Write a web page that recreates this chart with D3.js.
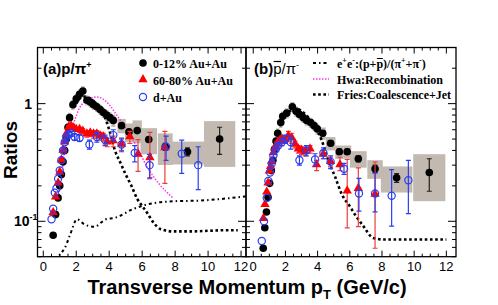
<!DOCTYPE html>
<html>
<head>
<meta charset="utf-8">
<script src="https://cdnjs.cloudflare.com/ajax/libs/d3/7.8.5/d3.min.js"></script>
<style>
body { margin: 0; background: #fff; }
svg { display: block; }
</style>
</head>
<body>
<div id="chart"></div>
<script>
// ---- panel (a) p/pi+ ----
var blackA_pt  = [0.6,0.75,0.9,1.0,1.1,1.2,1.3,1.4,1.5,1.6,1.8,2.0,2.2,2.4,2.65,2.85,3.05,3.25,3.45,3.65,3.85,4.05,4.25,4.75,5.2,5.7,6.4,7.4,8.75,10.7]
var blackA_val = [0.076,0.114,0.158,0.2,0.25,0.32,0.4,0.5,0.63,0.76,0.98,1.1,1.2,1.28,1.07,1.03,0.98,0.94,0.89,0.84,0.8,0.76,0.72,0.65,0.575,0.59,0.495,0.43,0.39,0.5]
var blackA_err = [0,0,0,0,0,0,0,0,0,0,0,0,0,0,0,0,0,0,0,0,0,0,0,0.02,0.02,0.02,0.02,0.03,0.03,0.13]
var blackA_sys = [0.06,0.06,0.06,0.07,0.07,0.08,0.08,0.09,0.09,0.1,0.1,0.1,0.1,0.1,0.1,0.1,0.1,0.1,0.1,0.1,0.11,0.11,0.12,0.14,0.18,0.22,0.25,0.3,0.22,0.42]
var blackA_bin = [0.1,0.1,0.1,0.1,0.1,0.1,0.1,0.1,0.1,0.1,0.1,0.1,0.1,0.1,0.1,0.1,0.1,0.1,0.1,0.1,0.1,0.1,0.12,0.25,0.25,0.28,0.5,0.45,1.0,0.95]

var redA_pt  = [0.6,0.75,0.9,1.0,1.1,1.2,1.3,1.4,1.55,1.7,1.85,2.0,2.2,2.4,2.65,2.85,3.05,3.25,3.45,3.65,3.88,4.24,4.75,5.25,5.75,6.47,7.38]
var redA_val = [0.118,0.16,0.21,0.26,0.33,0.4,0.47,0.55,0.63,0.64,0.62,0.6,0.6,0.58,0.55,0.56,0.55,0.55,0.53,0.52,0.47,0.48,0.45,0.52,0.37,0.345,0.42]
var redA_up  = [0,0,0,0,0,0,0,0.01,0.02,0.02,0.02,0.02,0.03,0.03,0.03,0.03,0.04,0.04,0.04,0.04,0.04,0.05,0.05,0.06,0.125,0.225,0.16]
var redA_dn  = [0,0,0,0,0,0,0,0.01,0.02,0.02,0.02,0.02,0.03,0.03,0.03,0.03,0.04,0.04,0.04,0.04,0.04,0.05,0.05,0.06,0.104,0.11,0.21]

var blueA_pt  = [0.5,0.6,0.7,0.8,0.9,1.0,1.1,1.2,1.3,1.4,1.55,1.7,1.9,2.2,2.8,3.25,3.75,4.25,4.75,5.55,6.45,7.45,8.4,9.4]
var blueA_val = [0.104,0.128,0.175,0.19,0.23,0.27,0.33,0.4,0.47,0.52,0.55,0.56,0.52,0.51,0.45,0.52,0.49,0.54,0.45,0.38,0.3,0.43,0.375,0.3]
var blueA_up  = [0,0,0,0,0,0,0,0.01,0.01,0.01,0.02,0.02,0.03,0.03,0.04,0.05,0.05,0.06,0.06,0.06,0.07,0.1,0.115,0.13]
var blueA_dn  = [0,0,0,0,0,0,0,0.01,0.01,0.01,0.02,0.02,0.03,0.03,0.04,0.05,0.05,0.06,0.06,0.06,0.07,0.1,0.12,0.114]

var hwaA_pt  = [0.9,1.0,1.3,1.6,1.9,2.2,2.5,2.9,3.2,3.6,4.0,4.4,5.0,5.6,6.3,7.0,7.9]
var hwaA_val = [0.16,0.19,0.4,0.58,0.72,0.92,1.03,1.11,1.14,1.1,0.98,0.82,0.62,0.45,0.29,0.21,0.157]

var friesA_pt  = [2.0,2.4,2.8,3.2,3.6,4.0,4.35,4.7,5.0,5.35,5.7,6.0,6.3,6.7,7.1,7.9,9,10,11,11.8]
var friesA_val = [1.0,1.15,1.12,1.0,0.85,0.6,0.4,0.31,0.25,0.2,0.155,0.135,0.118,0.097,0.086,0.082,0.082,0.083,0.084,0.084]

var eeA_pt  = [0.8,1.0,1.3,1.6,2.05,2.5,3.1,3.8,4.35,5.45,6.3,7.9,9.5,12.3]
var eeA_val = [0.046,0.052,0.059,0.075,0.104,0.094,0.09,0.104,0.107,0.127,0.139,0.148,0.15,0.163]

// ---- panel (b) pbar/pi- ----
var blackB_pt  = [0.62,0.72,0.82,0.92,1.02,1.12,1.22,1.32,1.42,1.52,1.71,1.83,2.08,2.43,2.66,2.87,3.11,3.32,3.57,3.78,3.98,4.32,4.81,5.35,5.84,6.53,7.57,8.91,10.94]
var blackB_val = [0.059,0.088,0.12,0.16,0.21,0.27,0.33,0.41,0.48,0.56,0.69,0.78,0.83,0.94,0.86,0.81,0.76,0.72,0.69,0.65,0.61,0.56,0.46,0.39,0.39,0.34,0.28,0.234,0.26]
var blackB_err = [0,0,0,0,0,0,0,0,0,0,0,0,0,0,0,0,0,0,0,0,0,0,0.02,0.02,0.02,0.02,0.02,0.02,0.08]
var blackB_sys = [0.06,0.06,0.06,0.07,0.07,0.08,0.08,0.09,0.09,0.1,0.1,0.1,0.1,0.1,0.1,0.1,0.1,0.1,0.1,0.1,0.11,0.12,0.13,0.13,0.13,0.16,0.18,0.25,0.43]
var blackB_bin = [0.05,0.05,0.05,0.05,0.05,0.05,0.05,0.05,0.05,0.1,0.1,0.1,0.12,0.12,0.12,0.1,0.12,0.12,0.12,0.1,0.1,0.18,0.3,0.25,0.25,0.52,0.48,0.98,1.0]

var redB_pt  = [0.63,0.73,0.84,0.92,1.0,1.08,1.15,1.25,1.35,1.45,1.55,1.66,1.78,1.98,2.18,2.39,2.6,2.8,3.0,3.22,3.53,3.94,4.35,4.8,5.39,5.84,6.53,7.57]
var redB_val = [0.105,0.138,0.176,0.21,0.266,0.29,0.32,0.38,0.42,0.45,0.47,0.48,0.5,0.49,0.53,0.51,0.45,0.41,0.4,0.39,0.41,0.3,0.37,0.32,0.3,0.18,0.189,0.169]
var redB_up  = [0,0,0,0,0,0,0.01,0.01,0.01,0.02,0.02,0.02,0.03,0.03,0.05,0.05,0.03,0.03,0.03,0.03,0.03,0.03,0.03,0.03,0.05,0.155,0.095,0.15]
var redB_dn  = [0,0,0,0,0,0,0.01,0.01,0.01,0.02,0.02,0.02,0.03,0.03,0.05,0.05,0.03,0.03,0.03,0.03,0.03,0.03,0.03,0.03,0.03,0.092,0.099,0.11]

var blueB_pt  = [0.53,0.67,0.84,0.94,1.05,1.15,1.25,1.4,1.55,1.77,2.0,2.33,2.87,3.3,3.84,4.36,4.81,5.64,6.57,7.57,8.6,9.64]
var blueB_val = [0.068,0.1,0.158,0.22,0.26,0.31,0.36,0.41,0.44,0.47,0.5,0.47,0.33,0.4,0.335,0.38,0.32,0.28,0.172,0.172,0.165,0.223]
var blueB_up  = [0,0,0,0,0,0.01,0.01,0.01,0.02,0.03,0.04,0.06,0.03,0.04,0.04,0.04,0.04,0.03,0.06,0.085,0.11,0.107]
var blueB_dn  = [0,0,0,0,0,0.01,0.01,0.01,0.02,0.03,0.04,0.06,0.03,0.04,0.04,0.04,0.04,0.03,0.05,0.052,0.074,0.107]

var friesB_pt  = [2.2,2.7,3.2,3.7,4.0,4.25,4.66,5.08,5.5,6.0,6.4,6.84,7.46,8.1,10,12]
var friesB_val = [0.85,0.9,0.82,0.68,0.58,0.49,0.33,0.24,0.17,0.134,0.11,0.091,0.072,0.07,0.07,0.07]

var xTickLabels = [0,2,4,6,8,10,12]
var legendA = ["0-12% Au+Au", "60-80% Au+Au", "d+Au"]

var W = 498, H = 305
var plotTop = 47.5, plotBottom = 256.7
var sans = "'Liberation Sans', Arial, sans-serif"
var serif = "'Liberation Serif', 'Times New Roman', serif"

var svg = d3.select("#chart").append("svg").attr("width", W).attr("height", H)

var y = d3.scaleLog().domain([0.05, 3]).range([plotBottom, plotTop])

function zip(pt, val) {
    return pt.map(function(p, i) { return {x: p, y: val[i]} })
}

function drawPanel(id, x, opt) {
    var x0 = x.range()[0], x1 = x.range()[1]
    svg.append("clipPath").attr("id", "clip" + id)
        .append("rect").attr("x", x0).attr("y", plotTop)
        .attr("width", x1 - x0).attr("height", plotBottom - plotTop)

    var g = svg.append("g").attr("clip-path", "url(#clip" + id + ")")

    // systematic boxes
    g.selectAll("rect.sys")
        .data(opt.black.pt.map(function(p, i) {
            var v = opt.black.val[i], s = opt.black.sys[i], b = opt.black.bin[i]
            return {x0: p - b, x1: p + b, lo: v * (1 - s), hi: v * (1 + s)}
        }))
        .enter().append("rect")
        .attr("x", function(d) { return x(d.x0) })
        .attr("width", function(d) { return x(d.x1) - x(d.x0) })
        .attr("y", function(d) { return y(d.hi) })
        .attr("height", function(d) { return y(d.lo) - y(d.hi) })
        .attr("fill", "#c2b9b0")

    var line = d3.line().x(function(d) { return x(d.x) }).y(function(d) { return y(d.y) }).curve(d3.curveMonotoneX)

    opt.lines.forEach(function(l) {
        g.append("path")
            .datum(zip(l.pt, l.val))
            .attr("d", line)
            .attr("fill", "none")
            .attr("stroke", l.color)
            .attr("stroke-width", l.width)
            .attr("stroke-dasharray", l.dash)
    })

    function errorBars(pts, vals, up, dn, color) {
        var data = pts.map(function(p, i) { return {x: p, y: vals[i], hi: vals[i] + up[i], lo: Math.max(vals[i] - dn[i], 0.01)} })
            .filter(function(d) { return d.hi > d.y })
        var eg = g.append("g").attr("stroke", color).attr("stroke-width", 1.2)
        eg.selectAll("line.v").data(data).enter().append("line")
            .attr("x1", function(d) { return x(d.x) }).attr("x2", function(d) { return x(d.x) })
            .attr("y1", function(d) { return y(d.hi) }).attr("y2", function(d) { return y(d.lo) })
        eg.selectAll("line.t").data(data).enter().append("line")
            .attr("x1", function(d) { return x(d.x) - 2.5 }).attr("x2", function(d) { return x(d.x) + 2.5 })
            .attr("y1", function(d) { return y(d.hi) }).attr("y2", function(d) { return y(d.hi) })
        eg.selectAll("line.b").data(data).enter().append("line")
            .attr("x1", function(d) { return x(d.x) - 2.5 }).attr("x2", function(d) { return x(d.x) + 2.5 })
            .attr("y1", function(d) { return y(d.lo) }).attr("y2", function(d) { return y(d.lo) })
    }

    // black 0-12%
    errorBars(opt.black.pt, opt.black.val, opt.black.err, opt.black.err, "#222")
    g.append("g").selectAll("circle").data(zip(opt.black.pt, opt.black.val)).enter()
        .append("circle")
        .attr("cx", function(d) { return x(d.x) }).attr("cy", function(d) { return y(d.y) })
        .attr("r", 3.8).attr("fill", "#000")

    // red 60-80%
    errorBars(opt.red.pt, opt.red.val, opt.red.up, opt.red.dn, "#f03a3a")
    g.append("g").selectAll("path").data(zip(opt.red.pt, opt.red.val)).enter()
        .append("path")
        .attr("d", d3.symbol(d3.symbolTriangle, 38))
        .attr("transform", function(d) { return "translate(" + x(d.x) + "," + (y(d.y) - 0.5) + ")" })
        .attr("fill", "#ff0000")

    // blue d+Au
    errorBars(opt.blue.pt, opt.blue.val, opt.blue.up, opt.blue.dn, "#2a3ff0")
    g.append("g").selectAll("circle").data(zip(opt.blue.pt, opt.blue.val)).enter()
        .append("circle")
        .attr("cx", function(d) { return x(d.x) }).attr("cy", function(d) { return y(d.y) })
        .attr("r", 3.6).attr("fill", "none").attr("stroke", "#2a3ff0").attr("stroke-width", 1.2)

    // frame
    svg.append("rect").attr("x", x0).attr("y", plotTop)
        .attr("width", x1 - x0).attr("height", plotBottom - plotTop)
        .attr("fill", "none").attr("stroke", "#000").attr("stroke-width", 1.3)

    var ax = svg.append("g").attr("stroke", "#000").attr("stroke-width", 1)
    d3.range(0, 12.5, 0.5).forEach(function(t) {
        if (x(t) <= x0 || x(t) >= x1) return
        var len = (t % 2 === 0) ? 6 : 3
        ax.append("line").attr("x1", x(t)).attr("x2", x(t)).attr("y1", plotBottom).attr("y2", plotBottom - len)
        ax.append("line").attr("x1", x(t)).attr("x2", x(t)).attr("y1", plotTop).attr("y2", plotTop + len)
    })
    var yt = []
    ;[0.01, 0.1, 1].forEach(function(dec) {
        for (var k = 1; k < 10; k++) yt.push({v: dec * k, major: k === 1})
    })
    yt.filter(function(t) { return t.v >= 0.05 && t.v <= 3 }).forEach(function(t) {
        var len = t.major ? 8 : 4
        ax.append("line").attr("x1", x0).attr("x2", x0 + len).attr("y1", y(t.v)).attr("y2", y(t.v))
        ax.append("line").attr("x1", x1).attr("x2", x1 - len).attr("y1", y(t.v)).attr("y2", y(t.v))
    })

    svg.append("g").selectAll("text").data(xTickLabels).enter().append("text")
        .attr("x", function(d) { return x(d) }).attr("y", 271)
        .attr("text-anchor", "middle")
        .attr("font-family", sans).attr("font-size", 13)
        .text(function(d) { return d })
}

var xA = d3.scaleLinear().domain([-0.35, 12.3]).range([37.5, 246])
var xB = d3.scaleLinear().domain([-0.45, 12.6]).range([246, 456])

drawPanel("a", xA, {
    black: {pt: blackA_pt, val: blackA_val, err: blackA_err, sys: blackA_sys, bin: blackA_bin},
    red: {pt: redA_pt, val: redA_val, up: redA_up, dn: redA_dn},
    blue: {pt: blueA_pt, val: blueA_val, up: blueA_up, dn: blueA_dn},
    lines: [
        {pt: eeA_pt, val: eeA_val, color: "#000", width: 2, dash: "3,3,1.5,3"},
        {pt: friesA_pt, val: friesA_val, color: "#000", width: 2.6, dash: "2.6,2.6"},
        {pt: hwaA_pt, val: hwaA_val, color: "#ff33ee", width: 1.5, dash: "1.5,1.5"}
    ]
})

drawPanel("b", xB, {
    black: {pt: blackB_pt, val: blackB_val, err: blackB_err, sys: blackB_sys, bin: blackB_bin},
    red: {pt: redB_pt, val: redB_val, up: redB_up, dn: redB_dn},
    blue: {pt: blueB_pt, val: blueB_val, up: blueB_up, dn: blueB_dn},
    lines: [
        {pt: friesB_pt, val: friesB_val, color: "#000", width: 2.6, dash: "2.6,2.6"}
    ]
})

// y tick labels
svg.append("text").attr("x", 32).attr("y", y(1) + 5).attr("text-anchor", "end")
    .attr("font-family", sans).attr("font-weight", "bold").attr("font-size", 14).text("1")
var t10 = svg.append("text").attr("x", 14).attr("y", y(0.1) + 5)
    .attr("font-family", sans).attr("font-weight", "bold").attr("font-size", 14)
t10.append("tspan").text("10")
t10.append("tspan").attr("dy", -6).attr("font-size", 9).text("-1")

// axis titles
svg.append("text").attr("transform", "translate(17,150) rotate(-90)")
    .attr("text-anchor", "middle").attr("font-family", sans).attr("font-weight", "bold")
    .attr("font-size", 19).text("Ratios")

var xt = svg.append("text").attr("x", 247).attr("y", 294).attr("text-anchor", "middle")
    .attr("font-family", sans).attr("font-weight", "bold").attr("font-size", 20)
xt.append("tspan").text("Transverse Momentum p")
xt.append("tspan").attr("dy", 5).attr("font-size", 13).text("T")
xt.append("tspan").attr("dy", -5).text(" (GeV/c)")

// panel labels
var la = svg.append("text").attr("x", 43).attr("y", 74)
    .attr("font-family", sans).attr("font-weight", "bold").attr("font-size", 15)
la.append("tspan").text("(a)p/\u03c0")
la.append("tspan").attr("dy", -6).attr("font-size", 9).text("+")

var lb = svg.append("text").attr("x", 254).attr("y", 74)
    .attr("font-family", sans).attr("font-size", 15)
lb.append("tspan").attr("font-weight", "bold").text("(b)")
lb.append("tspan").text("p")
lb.append("tspan").text("/\u03c0")
lb.append("tspan").attr("dy", -6).attr("font-size", 9).text("-")
// overline on p
var lbNode = lb.node()
var pStart = lbNode.getStartPositionOfChar(3).x, pEnd = lbNode.getEndPositionOfChar(3).x
svg.append("line").attr("x1", pStart + 0.5).attr("x2", pEnd - 0.5).attr("y1", 61.5).attr("y2", 61.5)
    .attr("stroke", "#000").attr("stroke-width", 1.2)

// legend (a)
var legA = svg.append("g").attr("font-family", serif).attr("font-weight", "bold").attr("font-size", 12)
var legY = [63, 80, 97]
legA.append("circle").attr("cx", 143).attr("cy", legY[0]).attr("r", 3.8).attr("fill", "#000")
legA.append("path").attr("d", d3.symbol(d3.symbolTriangle, 38))
    .attr("transform", "translate(143," + (legY[1] - 0.5) + ")").attr("fill", "#ff0000")
legA.append("circle").attr("cx", 143).attr("cy", legY[2]).attr("r", 3.6)
    .attr("fill", "none").attr("stroke", "#2a3ff0").attr("stroke-width", 1.2)
legA.selectAll("text").data(legendA).enter().append("text")
    .attr("x", 153).attr("y", function(d, i) { return legY[i] + 4.5 })
    .text(function(d) { return d })

// legend (b)
var legB = svg.append("g").attr("font-family", serif).attr("font-weight", "bold").attr("font-size", 12)
var legBY = [63, 79, 94.5]
legB.append("line").attr("x1", 313).attr("x2", 329).attr("y1", legBY[0]).attr("y2", legBY[0])
    .attr("stroke", "#000").attr("stroke-width", 2).attr("stroke-dasharray", "3,3,1.5,3")
legB.append("line").attr("x1", 313).attr("x2", 329).attr("y1", legBY[1]).attr("y2", legBY[1])
    .attr("stroke", "#ff33ee").attr("stroke-width", 1.5).attr("stroke-dasharray", "1.5,1.5")
legB.append("line").attr("x1", 313).attr("x2", 329).attr("y1", legBY[2]).attr("y2", legBY[2])
    .attr("stroke", "#000").attr("stroke-width", 2.6).attr("stroke-dasharray", "2.6,2.6")

var e1 = legB.append("text").attr("x", 337).attr("y", legBY[0] + 4.5)
e1.append("tspan").text("e")
e1.append("tspan").attr("dy", -5).attr("font-size", 8).text("+")
e1.append("tspan").attr("dy", 5).text("e")
e1.append("tspan").attr("dy", -5).attr("font-size", 8).text("-")
e1.append("tspan").attr("dy", 5).text(":(p+")
e1.append("tspan").text("p")
e1.append("tspan").text(")/(\u03c0")
e1.append("tspan").attr("dy", -5).attr("font-size", 8).text("+")
e1.append("tspan").attr("dy", 5).text("+\u03c0")
e1.append("tspan").attr("dy", -5).attr("font-size", 8).text("-")
e1.append("tspan").attr("dy", 5).text(")")
var e1n = e1.node()
// the second "p" is the 9th character
var ps = e1n.getStartPositionOfChar(8).x, pe = e1n.getEndPositionOfChar(8).x
legB.append("line").attr("x1", ps + 0.5).attr("x2", pe - 0.3).attr("y1", legBY[0] - 4.5).attr("y2", legBY[0] - 4.5)
    .attr("stroke", "#000").attr("stroke-width", 1)

legB.append("text").attr("x", 337).attr("y", legBY[1] + 4.5).text("Hwa:Recombination")
legB.append("text").attr("x", 337).attr("y", legBY[2] + 4.5).text("Fries:Coalescence+Jet")
</script>
</body>
</html>
